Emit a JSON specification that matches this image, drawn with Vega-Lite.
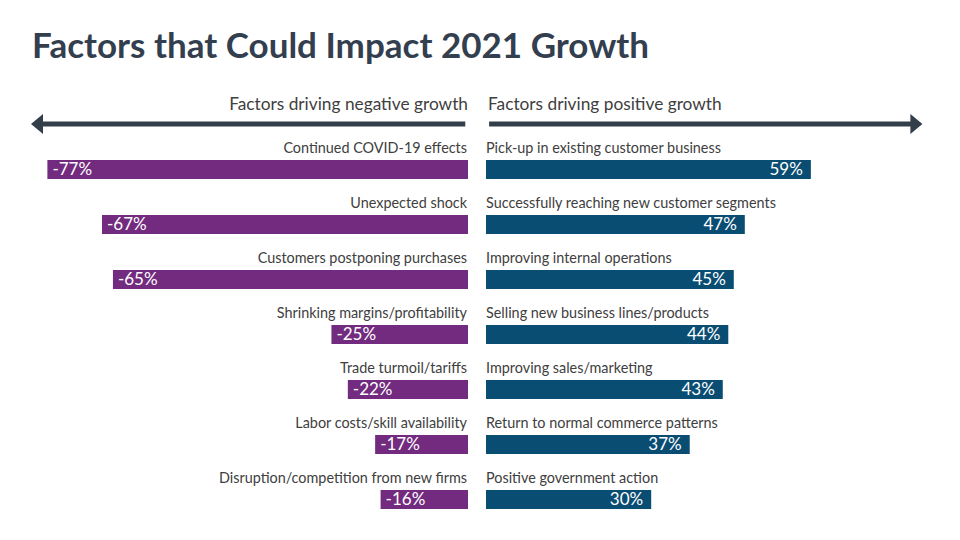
{
  "$schema": "https://vega.github.io/schema/vega-lite/v6.json",
  "background": "white",
  "padding": {"left": 31, "top": 30, "right": 0, "bottom": 0},
  "title": {"text": "Factors that Could Impact 2021 Growth", "anchor": "start", "font": "Lato", "fontSize": 35, "fontWeight": "bold", "color": "#333F4F", "dx": 1, "offset": 31},
  "config": {"view": {"stroke": null}, "font": "Lato"},
  "datasets": {
    "neg": [
      {"factor": "Continued COVID-19 effects", "value": -77},
      {"factor": "Unexpected shock", "value": -67},
      {"factor": "Customers postponing purchases", "value": -65},
      {"factor": "Shrinking margins/profitability", "value": -25},
      {"factor": "Trade turmoil/tariffs", "value": -22},
      {"factor": "Labor costs/skill availability", "value": -17},
      {"factor": "Disruption/competition from new firms", "value": -16}
    ],
    "pos": [
      {"factor": "Pick-up in existing customer business", "value": 59},
      {"factor": "Successfully reaching new customer segments", "value": 47},
      {"factor": "Improving internal operations", "value": 45},
      {"factor": "Selling new business lines/products", "value": 44},
      {"factor": "Improving sales/marketing", "value": 43},
      {"factor": "Return to normal commerce patterns", "value": 37},
      {"factor": "Positive government action", "value": 30}
    ]
  },
  "spacing": -1,
  "vconcat": [
    {
      "spacing": 18,
      "hconcat": [
        {
          "width": 437, "height": 34,
          "data": {"values": [{"heading": "Factors driving negative growth"}]},
          "layer": [
            {"mark": {"type": "rule", "color": "#323E4A", "strokeWidth": 5}, "encoding": {"x": {"datum": -78.5, "type": "quantitative", "scale": {"domain": [-80, 0], "nice": false}, "axis": null}, "x2": {"datum": -0.5}}},
            {"mark": {"type": "point", "shape": "M-0.6,0L0.6,-1L0.6,1Z", "size": 400, "filled": true, "color": "#323E4A", "opacity": 1}, "encoding": {"x": {"datum": -78.9, "type": "quantitative", "axis": null}}},
            {"mark": {"type": "text", "align": "right", "baseline": "middle", "dy": -19, "fontSize": 17.3, "color": "#404040"}, "encoding": {"x": {"datum": 0, "type": "quantitative", "axis": null}, "text": {"field": "heading"}}}
          ]
        },
        {
          "width": 435, "height": 34,
          "data": {"values": [{"heading": "Factors driving positive growth"}]},
          "layer": [
            {"mark": {"type": "rule", "color": "#323E4A", "strokeWidth": 5}, "encoding": {"x": {"datum": 0.2, "type": "quantitative", "scale": {"domain": [0, 79], "nice": false}, "axis": null}, "x2": {"datum": 77.5}}},
            {"mark": {"type": "point", "shape": "M0.6,0L-0.6,-1L-0.6,1Z", "size": 400, "filled": true, "color": "#323E4A", "opacity": 1}, "encoding": {"x": {"datum": 77.8, "type": "quantitative", "axis": null}}},
            {"mark": {"type": "text", "align": "left", "baseline": "middle", "dy": -19, "fontSize": 17.3, "color": "#404040"}, "encoding": {"x": {"datum": 0, "type": "quantitative", "axis": null}, "text": {"field": "heading"}}}
          ]
        }
      ]
    },
    {
      "spacing": 18,
      "hconcat": [
        {
          "width": 437, "height": 385,
          "data": {"name": "neg"},
          "transform": [{"calculate": "datum.value + '%'", "as": "label"}],
          "encoding": {"y": {"field": "factor", "type": "nominal", "sort": null, "axis": null, "scale": {"paddingInner": 0, "paddingOuter": 0}}},
          "layer": [
            {"mark": {"type": "bar", "size": 19, "color": "#722B7E"}, "encoding": {"x": {"field": "value", "type": "quantitative", "scale": {"domain": [-80, 0], "nice": false}, "axis": null}}},
            {"mark": {"type": "text", "align": "right", "baseline": "middle", "dy": -21, "dx": -1, "fontSize": 14.4, "color": "#404040"}, "encoding": {"x": {"datum": 0, "type": "quantitative", "axis": null}, "text": {"field": "factor"}}},
            {"mark": {"type": "text", "align": "left", "baseline": "middle", "dx": 5, "fontSize": 17, "color": "white"}, "encoding": {"x": {"field": "value", "type": "quantitative", "axis": null}, "text": {"field": "label"}}}
          ]
        },
        {
          "width": 435, "height": 385,
          "data": {"name": "pos"},
          "transform": [{"calculate": "datum.value + '%'", "as": "label"}],
          "encoding": {"y": {"field": "factor", "type": "nominal", "sort": null, "axis": null, "scale": {"paddingInner": 0, "paddingOuter": 0}}},
          "layer": [
            {"mark": {"type": "bar", "size": 19, "color": "#0A4D73"}, "encoding": {"x": {"field": "value", "type": "quantitative", "scale": {"domain": [0, 79], "nice": false}, "axis": null}}},
            {"mark": {"type": "text", "align": "left", "baseline": "middle", "dy": -21, "fontSize": 14.4, "color": "#404040"}, "encoding": {"x": {"datum": 0, "type": "quantitative", "axis": null}, "text": {"field": "factor"}}},
            {"mark": {"type": "text", "align": "right", "baseline": "middle", "dx": -8, "fontSize": 17, "color": "white"}, "encoding": {"x": {"field": "value", "type": "quantitative", "axis": null}, "text": {"field": "label"}}}
          ]
        }
      ]
    }
  ]
}
